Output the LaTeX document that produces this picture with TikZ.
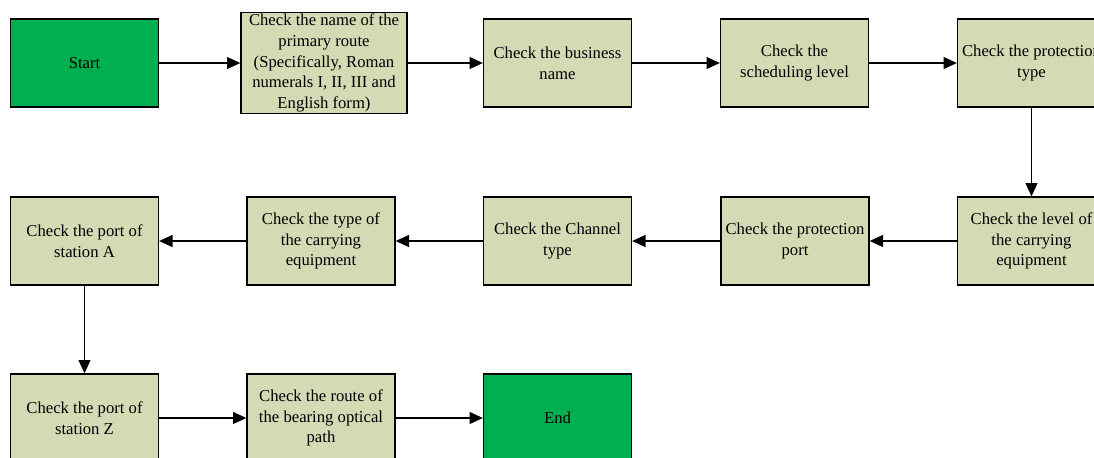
\documentclass[tikz,border=0pt]{standalone}
\usepackage{fontspec}
\setmainfont{Liberation Serif}
\usepackage{tikz}
\usetikzlibrary{arrows.meta}
\definecolor{startgreen}{RGB}{0,176,80}
\definecolor{stepolive}{RGB}{211,219,181}

\begin{document}
\begin{tikzpicture}[x=0.75pt,y=-0.75pt,
  stepbox/.style={draw,line width=1pt,fill=stepolive,minimum width=111pt,minimum height=66pt,
    align=center,inner sep=1pt,font=\fontsize{12.5}{15.5}\selectfont},
  termbox/.style={stepbox,fill=startgreen},
  flow/.style={-{Triangle[length=10pt,width=9pt]},line width=0.8pt}]
\useasboundingbox (0,0) rectangle (1094,457);
% first row
\node[termbox] (start) at (84.5,63) {Start};
\node[stepbox,minimum width=124.5pt,minimum height=75pt] (primary) at (324,63)
  {Check the name of the\\primary route\\(Specifically, Roman\\numerals I, II, III and\\English form)};
\node[stepbox] (business) at (557.5,63) {Check the business\\name};
\node[stepbox] (schedule) at (794.5,63) {Check the\\scheduling level};
\node[stepbox] (prottype) at (1031.5,63) {Check the protection\\type};
% second row
\node[stepbox] (carrylevel) at (1031.5,241) {Check the level of\\the carrying\\equipment};
\node[stepbox] (protport) at (795,241) {Check the protection\\port};
\node[stepbox] (channel) at (557.5,241) {Check the Channel\\type};
\node[stepbox] (carrytype) at (321,241) {Check the type of\\the carrying\\equipment};
\node[stepbox] (portA) at (84.5,241) {Check the port of\\station A};
% third row
\node[stepbox] (portZ) at (84.5,418) {Check the port of\\station Z};
\node[stepbox] (optical) at (321,418) {Check the route of\\the bearing optical\\path};
\node[termbox] (end) at (557.5,418) {End};

\draw[flow] (start) -- (primary);
\draw[flow] (primary) -- (business);
\draw[flow] (business) -- (schedule);
\draw[flow] (schedule) -- (prottype);
\draw[flow] (prottype) -- (carrylevel);
\draw[flow] (carrylevel) -- (protport);
\draw[flow] (protport) -- (channel);
\draw[flow] (channel) -- (carrytype);
\draw[flow] (carrytype) -- (portA);
\draw[flow] (portA) -- (portZ);
\draw[flow] (portZ) -- (optical);
\draw[flow] (optical) -- (end);
\end{tikzpicture}
\end{document}
